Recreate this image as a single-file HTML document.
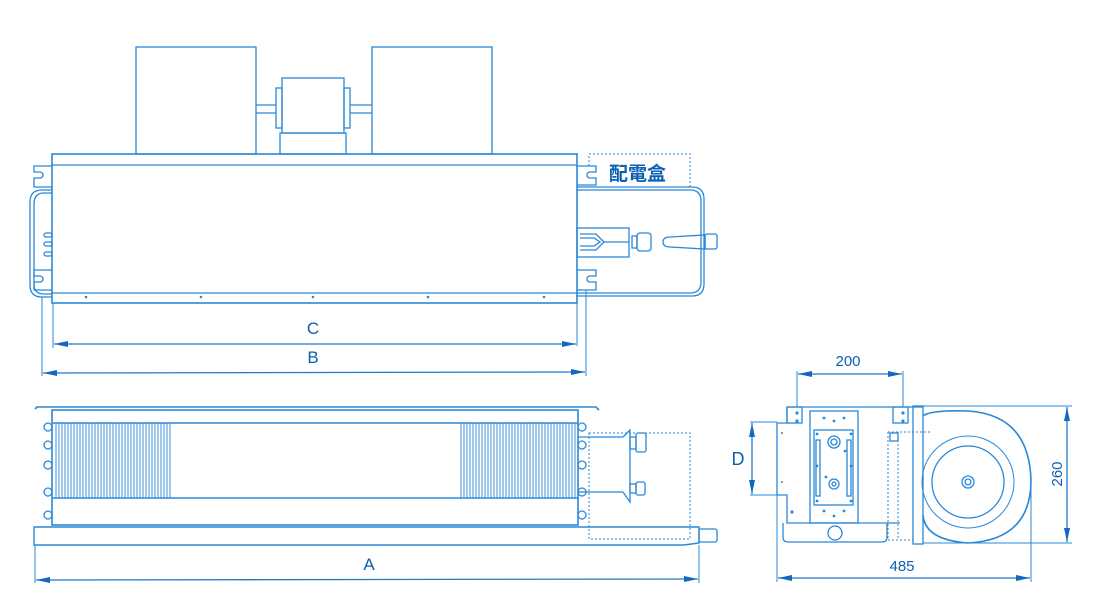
<!DOCTYPE html>
<html><head><meta charset="utf-8"><style>
html,body{margin:0;padding:0;background:#fff;}
svg{display:block}
text{font-family:"Liberation Sans","Noto Sans CJK TC",sans-serif;fill:#0b5fb5}
</style></head><body>
<svg width="1097" height="615" viewBox="0 0 1097 615" xmlns="http://www.w3.org/2000/svg">
<defs>
<marker id="ar" markerWidth="14" markerHeight="6" refX="14" refY="3" orient="auto" markerUnits="userSpaceOnUse"><path d="M0,0 L14,3 L0,6 Z" fill="#1468c0"/></marker>
<marker id="al" markerWidth="14" markerHeight="6" refX="0" refY="3" orient="auto" markerUnits="userSpaceOnUse"><path d="M14,0 L0,3 L14,6 Z" fill="#1468c0"/></marker>
</defs>
<g fill="none" stroke="#2a88d8" stroke-width="1.3">
<!-- TOP VIEW -->
<rect x="136" y="47" width="120" height="107"/>
<rect x="372" y="47" width="120" height="107"/>
<rect x="282" y="78" width="62" height="55"/>
<rect x="280" y="133" width="66" height="21"/>
<rect x="276" y="88" width="6" height="40"/><rect x="344" y="88" width="6" height="40"/>
<line x1="256" y1="105" x2="276" y2="105"/><line x1="256" y1="113" x2="276" y2="113"/>
<line x1="350" y1="105" x2="372" y2="105"/><line x1="350" y1="113" x2="372" y2="113"/>
<rect x="52" y="154" width="525" height="149" stroke-width="1.6"/>
<line x1="52" y1="165" x2="577" y2="165"/>
<line x1="52" y1="293" x2="577" y2="293"/>
<!-- brackets -->
<path d="M52,166 H34 V172 H40 A3,3 0 0 1 40,178 H34 V187 H52"/>
<path d="M52,270 H34 V276 H40 A3,3 0 0 1 40,282 H34 V290 H52"/>
<path d="M577,166 H596 V172 H590 A3,3 0 0 0 590,178 H596 V185 H577"/>
<path d="M577,270 H596 V276 H590 A3,3 0 0 0 590,282 H596 V290 H577"/>
<!-- left frame -->
<path d="M52,190 H42 Q30,190 30,202 V285 Q30,297 42,297 H52"/>
<path d="M52,193 H44 Q34,193 34,204 V284 Q34,294 44,294 H52"/>
<rect x="44" y="233" width="8" height="4" rx="2"/><rect x="44" y="242" width="8" height="4" rx="2"/><rect x="44" y="252" width="8" height="4" rx="2"/>
<!-- right frame -->
<path d="M577,187 H692 Q704,187 704,199 V284 Q704,296 692,296 H577"/>
<path d="M577,190 H690 Q701,190 701,201 V282 Q701,293 690,293 H577"/>
<rect x="577" y="228" width="52" height="29"/>
<path d="M580,234 H596 L604,242 L596,250 H580 M580,238 H594 L600,242 L594,246 H580 M604,242 H629"/>
<rect x="632" y="236" width="5" height="12"/><rect x="637" y="233" width="14" height="18" rx="3"/>
<path d="M663,242 Q663,237 670,237 L705,235 L705,249 L670,247 Q663,247 663,242 Z"/>
<rect x="705" y="234" width="12" height="15" rx="2"/>
<g stroke-dasharray="2,2" stroke-width="1"><path d="M589,166 V154 H690 V187"/></g>
<g fill="#2a88d8" stroke="none">
<circle cx="86" cy="297" r="1.3"/><circle cx="201" cy="297" r="1.3"/><circle cx="313" cy="297" r="1.3"/><circle cx="428" cy="297" r="1.3"/><circle cx="544" cy="297" r="1.3"/>
</g>
<!-- dims C, B -->
<line x1="53" y1="303" x2="53" y2="348" stroke-width="1"/>
<line x1="577" y1="303" x2="577" y2="346" stroke-width="1"/>
<line x1="42" y1="297" x2="42" y2="376" stroke-width="1"/>
<line x1="586" y1="290" x2="586" y2="376" stroke-width="1"/>
<line x1="54" y1="344" x2="576" y2="344" stroke="#1f78cc" marker-start="url(#al)" marker-end="url(#ar)"/>
<line x1="43" y1="373" x2="585" y2="372" stroke="#1f78cc" marker-start="url(#al)" marker-end="url(#ar)"/>

<!-- SIDE VIEW -->
<path d="M35,409 L37,407 H596 L599,410" stroke-width="1.6"/>
<rect x="52" y="410" width="526" height="115" stroke-width="1.6"/>
<line x1="52" y1="423" x2="578" y2="423" stroke-width="1.6"/>
<line x1="52" y1="498" x2="578" y2="498" stroke-width="1.6"/>
<path d="M56,423V498M59,423V498M62,423V498M65,423V498M68,423V498M71,423V498M74,423V498M77,423V498M80,423V498M83,423V498M86,423V498M89,423V498M92,423V498M95,423V498M98,423V498M101,423V498M104,423V498M107,423V498M110,423V498M113,423V498M116,423V498M119,423V498M122,423V498M125,423V498M128,423V498M131,423V498M134,423V498M137,423V498M140,423V498M143,423V498M146,423V498M149,423V498M152,423V498M155,423V498M158,423V498M161,423V498M164,423V498M167,423V498M170,423V498" stroke-width="0.9"/>
<path d="M461,423V498M464,423V498M467,423V498M470,423V498M473,423V498M476,423V498M479,423V498M482,423V498M485,423V498M488,423V498M491,423V498M494,423V498M497,423V498M500,423V498M503,423V498M506,423V498M509,423V498M512,423V498M515,423V498M518,423V498M521,423V498M524,423V498M527,423V498M530,423V498M533,423V498M536,423V498M539,423V498M542,423V498M545,423V498M548,423V498M551,423V498M554,423V498M557,423V498M560,423V498M563,423V498M566,423V498M569,423V498M572,423V498M575,423V498" stroke-width="0.9"/>
<g>
<circle cx="48" cy="427" r="4"/><circle cx="48" cy="445" r="4"/><circle cx="48" cy="465" r="4"/><circle cx="48" cy="492" r="4"/><circle cx="48" cy="515" r="4"/>
<circle cx="582" cy="427" r="4"/><circle cx="582" cy="445" r="4"/><circle cx="582" cy="465" r="4"/><circle cx="582" cy="492" r="4"/><circle cx="582" cy="515" r="4"/>
</g>
<path d="M34,527 H699 V543 L684,545 H34 Z" stroke-width="1.4"/>
<rect x="699" y="529" width="18" height="13" rx="2"/>
<rect x="589" y="433" width="101" height="106" stroke-dasharray="2,2" stroke-width="1"/>
<path d="M578,437 H623 M578,492 H623 M623,437 L630,430 V502 L623,492"/>
<rect x="630" y="437" width="6" height="12"/><rect x="636" y="433" width="10" height="19" rx="2"/>
<rect x="630" y="484" width="6" height="9"/><rect x="636" y="482" width="9" height="13" rx="2"/>
<line x1="35" y1="545" x2="35" y2="583" stroke-width="1"/>
<line x1="699" y1="545" x2="699" y2="583" stroke-width="1"/>
<line x1="36" y1="580" x2="698" y2="579" stroke="#1f78cc" marker-start="url(#al)" marker-end="url(#ar)"/>

<!-- END VIEW -->
<path d="M787,407 H923 M787,407 V423 H777 V495 H787 V523 H900"/>
<rect x="787" y="407" width="15" height="16"/><rect x="893" y="407" width="15" height="16"/>
<rect x="810" y="411" width="48" height="112"/>
<rect x="814" y="430" width="39" height="75"/>
<rect x="816" y="440" width="4" height="56"/><rect x="847" y="440" width="4" height="56"/>
<circle cx="834" cy="442" r="6"/><circle cx="834" cy="442" r="3"/>
<circle cx="834" cy="484" r="5"/><circle cx="834" cy="484" r="2"/>
<path d="M783,523 V537 Q783,542 788,542 H882 Q887,542 887,537 V523"/>
<circle cx="835" cy="533" r="7"/>
<rect x="913" y="406" width="10" height="138"/>
<rect x="890" y="433" width="8" height="8"/>
<path d="M888,432 H930 M888,432 V540 M898,432 V540 M888,540 H913" stroke-dasharray="2,2" stroke-width="1"/>
<g fill="#2a88d8" stroke="none">
<circle cx="797" cy="413" r="1.6"/><circle cx="797" cy="421" r="1.6"/><circle cx="903" cy="413" r="1.6"/><circle cx="903" cy="421" r="1.6"/>
<circle cx="824" cy="418" r="1.4"/><circle cx="834" cy="421" r="1.4"/><circle cx="844" cy="418" r="1.4"/>
<circle cx="817" cy="434" r="1.4"/><circle cx="851" cy="434" r="1.4"/><circle cx="817" cy="466" r="1.4"/><circle cx="851" cy="466" r="1.4"/>
<circle cx="817" cy="501" r="1.4"/><circle cx="851" cy="501" r="1.4"/><circle cx="845" cy="451" r="1.4"/><circle cx="826" cy="477" r="1.4"/>
<circle cx="824" cy="511" r="1.4"/><circle cx="844" cy="511" r="1.4"/><circle cx="834" cy="516" r="1.4"/>
<circle cx="792" cy="512" r="1.6"/><circle cx="782" cy="433" r="1"/><circle cx="782" cy="482" r="1"/>
</g>
<path d="M923,416 Q930,410 968,411 Q1030,415 1031,482 Q1030,540 968,543 Q925,540 923,515" stroke-width="1.6"/>
<circle cx="968" cy="482" r="46" stroke-width="1"/>
<circle cx="968" cy="482" r="36"/>
<circle cx="968" cy="482" r="6"/><circle cx="968" cy="482" r="3"/>
<!-- dims -->
<line x1="797" y1="371" x2="797" y2="407" stroke-width="1"/>
<line x1="903" y1="371" x2="903" y2="407" stroke-width="1"/>
<line x1="798" y1="374" x2="902" y2="374" stroke="#1f78cc" marker-start="url(#al)" marker-end="url(#ar)"/>
<line x1="750" y1="422" x2="777" y2="422" stroke-width="1"/>
<line x1="750" y1="495" x2="777" y2="495" stroke-width="1"/>
<line x1="752" y1="423" x2="752" y2="494" stroke="#1f78cc" marker-start="url(#al)" marker-end="url(#ar)"/>
<line x1="923" y1="406" x2="1072" y2="406" stroke-width="1"/>
<line x1="923" y1="543" x2="1072" y2="543" stroke-width="1"/>
<line x1="1067" y1="407" x2="1067" y2="542" stroke="#1f78cc" marker-start="url(#al)" marker-end="url(#ar)"/>
<line x1="777" y1="495" x2="777" y2="582" stroke-width="1"/>
<line x1="1031" y1="482" x2="1031" y2="582" stroke-width="1"/>
<line x1="778" y1="578" x2="1030" y2="578" stroke="#1f78cc" marker-start="url(#al)" marker-end="url(#ar)"/>
</g>
<text x="609" y="180" font-size="19" font-weight="bold">配電盒</text>
<text x="313" y="334" font-size="17" text-anchor="middle">C</text>
<text x="313" y="363" font-size="17" text-anchor="middle">B</text>
<text x="369" y="570" font-size="17" text-anchor="middle">A</text>
<text x="848" y="366" font-size="15" text-anchor="middle">200</text>
<text x="738" y="465" font-size="18" text-anchor="middle">D</text>
<text x="902" y="571" font-size="15" text-anchor="middle">485</text>
<text x="1062" y="474" font-size="15" text-anchor="middle" transform="rotate(-90 1062 474)">260</text>
</svg>
</body></html>
